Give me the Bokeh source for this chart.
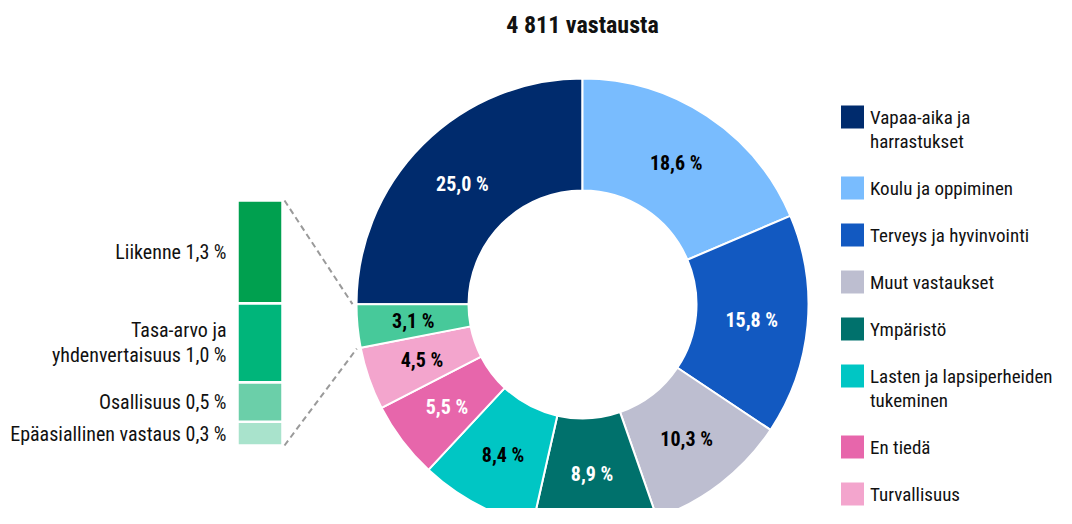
import numpy as np
from bokeh.plotting import figure
from bokeh.models import Range1d, ColumnDataSource
from bokeh.core.properties import value
from bokeh.embed import file_html
from bokeh.resources import INLINE

# ---------------- data ----------------
title_text = "4 811 vastausta"
categories = ["Vapaa-aika ja harrastukset", "Koulu ja oppiminen", "Terveys ja hyvinvointi",
              "Muut vastaukset", "Ympäristö", "Lasten ja lapsiperheiden tukeminen",
              "En tiedä", "Turvallisuus"]
legend_lines = [["Vapaa-aika ja", "harrastukset"], ["Koulu ja oppiminen"], ["Terveys ja hyvinvointi"],
                ["Muut vastaukset"], ["Ympäristö"], ["Lasten ja lapsiperheiden", "tukeminen"],
                ["En tiedä"], ["Turvallisuus"]]
shares = [25.0, 18.6, 15.8, 10.3, 8.9, 8.4, 5.5, 4.5]
colors = ["#002B6D", "#79BCFE", "#1259C1", "#BDBED0", "#00716C", "#00C6C4", "#E766AB", "#F3A5CD"]
label_colors = ["white", "black", "white", "black", "white", "black", "white", "black"]

other_share = 3.1
other_color = "#47C99A"
other_label_color = "black"

detail_names = [["Liikenne 1,3 %"], ["Tasa-arvo ja", "yhdenvertaisuus 1,0 %"],
                ["Osallisuus 0,5 %"], ["Epäasiallinen vastaus 0,3 %"]]
detail_shares = [1.3, 1.0, 0.5, 0.3]
detail_colors = ["#00A04F", "#00B57A", "#6BCFA9", "#A9E3CC"]

FONT = "Roboto Condensed"
TXT = "#111111"

# ---------------- figure ----------------
W, H = 1056, 508
p = figure(width=W, height=H, x_range=Range1d(0, W), y_range=Range1d(524 - H, 524),
           x_axis_type=None, y_axis_type=None, toolbar_location=None,
           output_backend="svg", min_border=0)
p.grid.visible = False
p.outline_line_color = None
p.background_fill_color = "white"
p.border_fill_color = "white"

# ---------------- donut ----------------
cx, cy = 582, 220
r_in, r_out = 114, 226
vals = np.array(shares + [other_share])
cols = colors + [other_color]
lcols = label_colors + [other_label_color]
total = vals.sum()
k = 2 * np.pi / total
a0 = np.pi / 2 + vals[0] * k  # first slice ends at 12 o'clock
cum = np.concatenate([[0], np.cumsum(vals)])
start = a0 - cum[:-1] * k
end = a0 - cum[1:] * k
mid = (start + end) / 2
rl = (r_in + r_out) / 2
labels = [f"{v:.1f}".replace(".", ",") + " %" for v in vals]

src = ColumnDataSource(dict(start=start, end=end, color=cols, lx=cx + rl * np.cos(mid),
                            ly=cy + rl * np.sin(mid), label=labels, lcol=lcols))
p.annular_wedge(x=cx, y=cy, inner_radius=r_in, outer_radius=r_out, start_angle="start",
                end_angle="end", direction="clock", fill_color="color", line_color="white",
                line_width=2, source=src)
p.text(x="lx", y="ly", text="label", text_color="lcol", text_font=value(FONT),
       text_font_size="20px", text_font_style="bold", text_align="center",
       text_baseline="middle", source=src)

# ---------------- title ----------------
p.text(x=[cx], y=[500], text=[title_text], text_font=value(FONT), text_font_size="24px",
       text_font_style="bold", text_align="center", text_baseline="middle", text_color=TXT)

# ---------------- detail stack ----------------
stack_top_img, stack_px = 200, 245
scale = stack_px / other_share
base = 524 - (stack_top_img + stack_px)   # data y of stack bottom
p.extra_y_ranges = {"stack": Range1d(start=(524 - H - base) / scale, end=(524 - base) / scale)}
d_vals = np.array(detail_shares)[::-1]
d_cum = np.concatenate([[0], np.cumsum(d_vals)])
bx, bw = 259.5, 45
dsrc = ColumnDataSource(dict(bottom=d_cum[:-1], top=d_cum[1:], color=detail_colors[::-1]))
p.vbar(x=bx, width=bw, bottom="bottom", top="top", fill_color="color", line_color="white",
       line_width=2.5, source=dsrc, y_range_name="stack")

tx, ty, toff = [], [], []
names_rev = detail_names[::-1]
for i, lines in enumerate(names_rev):
    m = (d_cum[i] + d_cum[i + 1]) / 2
    n = len(lines)
    for j, ln in enumerate(lines):
        tx.append(ln)
        ty.append(m)
        toff.append((j - (n - 1) / 2) * 25)
p.text(x=bx - bw / 2 - 11, y=ty, text=tx, y_offset=toff, text_font=value(FONT),
       text_font_size="20px", text_align="right", text_baseline="middle",
       text_color=TXT, y_range_name="stack")

# connector lines
x_edge = bx + bw / 2 + 2
y_top = base + other_share * scale
y_bot = base
gap = 4
p_top = (cx + (r_out + gap) * np.cos(end[-1]), cy + (r_out + gap) * np.sin(end[-1]))
p_bot = (cx + (r_out + gap) * np.cos(start[-1]), cy + (r_out + gap) * np.sin(start[-1]))
p.segment(x0=[x_edge, x_edge], y0=[y_top, y_bot], x1=[p_top[0], p_bot[0]],
          y1=[p_top[1], p_bot[1]], line_color="#9A9A9A", line_width=2, line_dash="6 4")

# ---------------- legend ----------------
sq = 23
lx0 = 852
ly_img = 105
rx, ry, rc = [], [], []
lt, lty = [], []
for lines, c in zip(legend_lines, colors):
    yc = 524 - (ly_img + sq / 2)
    rx.append(lx0)
    ry.append(yc)
    rc.append(c)
    for j, ln in enumerate(lines):
        lt.append(ln)
        lty.append(yc - j * 24)
    ly_img += 47 + 24 * (len(lines) - 1)
p.rect(x=rx, y=ry, width=sq, height=sq, width_units="screen", height_units="screen",
       fill_color=rc, line_color=None)
p.text(x=lx0 + sq / 2 + 6, y=lty, text=lt, text_font=value(FONT), text_font_size="19px",
       text_align="left", text_baseline="middle", text_color=TXT)

open("out.html", "w").write(file_html(p, INLINE))
